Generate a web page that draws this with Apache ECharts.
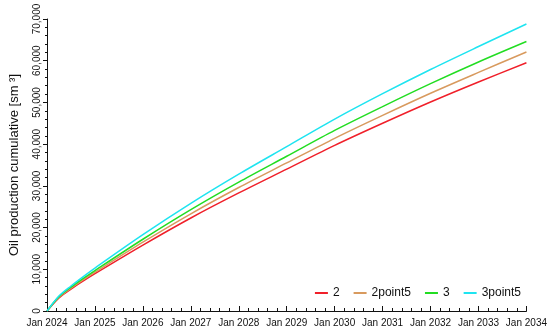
<!DOCTYPE html>
<html>
<head>
<meta charset="utf-8">
<script src="https://cdn.jsdelivr.net/npm/echarts@6/dist/echarts.min.js"></script>
<style>
  html, body { margin: 0; padding: 0; background: #fff; }
  #chart { width: 550px; height: 334px; }
</style>
</head>
<body>
<div id="chart"></div>
<script>
// decimal years (Jan of each year, plus quarters in the first year)
const years = [2024, 2024.25, 2024.5, 2024.75, 2025, 2026, 2027, 2028, 2029, 2030, 2031, 2032, 2033, 2034];
const seriesNames = ["2", "2point5", "3", "3point5"];
const values2 = [0, 3150, 5250, 7150, 8950, 15800, 22300, 28300, 34000, 39700, 45000, 50100, 54900, 59500];
const values2point5 = [0, 3300, 5450, 7450, 9300, 16500, 23300, 29600, 35500, 41400, 46900, 52200, 57200, 62100];
const values3 = [0, 3450, 5700, 7750, 9700, 17200, 24300, 30900, 37100, 43300, 49000, 54500, 59700, 64600];
const values3point5 = [0, 3600, 6000, 8200, 10300, 18300, 25800, 32800, 39400, 46000, 52100, 57900, 63400, 68800];
const yTicks = [0, 10000, 20000, 30000, 40000, 50000, 60000, 70000];

const colors = ["#f0202a", "#d89a5e", "#22dd22", "#1ee4f0"];
const allValues = [values2, values2point5, values3, values3point5];

const chart = echarts.init(document.getElementById("chart"), null, { renderer: "canvas" });
const font = "Liberation Sans, Arial, sans-serif";

chart.setOption({
  animation: false,
  textStyle: { fontFamily: font },
  grid: { left: 41, right: 20, top: 19, bottom: 23 },
  legend: {
    data: seriesNames,
    right: 24,
    top: 282,
    itemWidth: 13,
    itemHeight: 2,
    itemGap: 14,
    icon: "rect",
    textStyle: { fontSize: 12, color: "#111", fontFamily: font },
  },
  xAxis: {
    type: "value",
    min: 2024,
    max: 2034,
    interval: 1,
    axisLine: { lineStyle: { color: "#111", width: 1 } },
    axisTick: { inside: true, length: 5, lineStyle: { color: "#111" } },
    minorTick: { show: true, splitNumber: 5, length: 3, lineStyle: { color: "#111" } },
    axisLabel: {
      formatter: (v) => "Jan " + v,
      fontSize: 10,
      color: "#111",
      margin: 7,
      hideOverlap: false,
    },
    splitLine: { show: false },
  },
  yAxis: {
    type: "value",
    min: yTicks[0],
    max: yTicks[yTicks.length - 1],
    interval: 10000,
    name: "Oil production cumulative [sm ³]",
    nameLocation: "middle",
    nameGap: 26,
    nameTextStyle: { fontSize: 13, color: "#111" },
    axisLine: { show: true, lineStyle: { color: "#111", width: 1 } },
    axisTick: { show: true, length: 4, lineStyle: { color: "#111" } },
    minorTick: { show: true, splitNumber: 5, length: 2, lineStyle: { color: "#111" } },
    axisLabel: {
      rotate: 90,
      fontSize: 10,
      color: "#111",
      margin: 5,
      formatter: (v) => v.toLocaleString("en-US"),
    },
    splitLine: { show: false },
  },
  series: seriesNames.map((name, i) => ({
    name,
    type: "line",
    smooth: 0.3,
    showSymbol: false,
    color: colors[i],
    lineStyle: { width: 1.5, color: colors[i] },
    data: years.map((y, j) => [y, allValues[i][j]]),
  })),
});
</script>
</body>
</html>
